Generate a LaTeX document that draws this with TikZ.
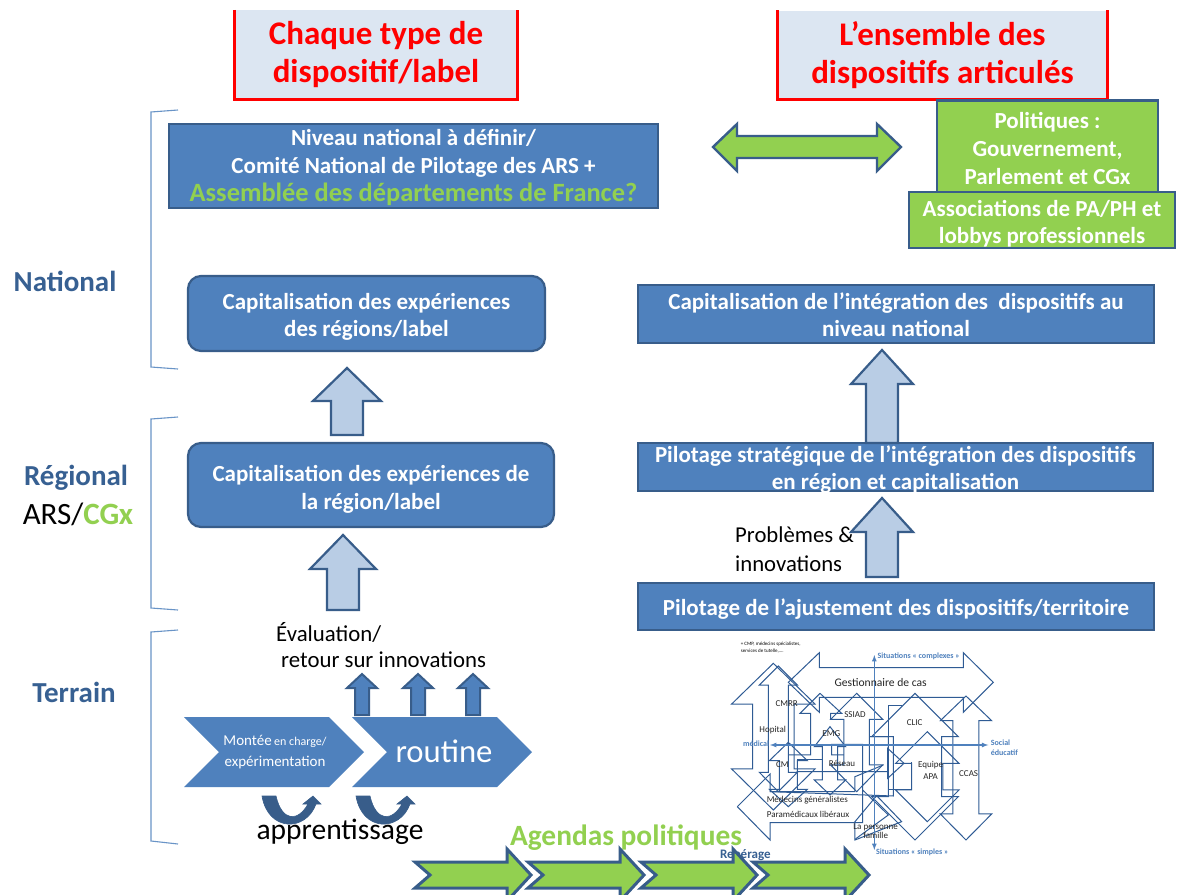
\documentclass[tikz,border=0pt]{standalone}
\usepackage{fontspec}
\setmainfont{Carlito}
\usetikzlibrary{positioning}

\definecolor{boxblue}{HTML}{4F81BD}
\definecolor{boxline}{HTML}{385D8A}
\definecolor{lightblue}{HTML}{B9CDE5}
\definecolor{palered}{HTML}{DCE6F2}
\definecolor{polgreen}{HTML}{92D050}
\definecolor{titleblue}{HTML}{376092}
\definecolor{netline}{HTML}{2F5B94}

\newcommand{\fsz}[1]{\fontsize{#1}{#1}\selectfont}
% taller first line, pushes a box text down
\newcommand{\toppad}[1]{\rule{0pt}{#1pt}}

% up arrow: centre, tip, head line, half head, half shaft, foot
\newcommand{\upblock}[7][]{\draw[#1] (#2,#3) -- ({#2+#5},#4) -- ({#2+#6},#4) -- ({#2+#6},#7)
  -- ({#2-#6},#7) -- ({#2-#6},#4) -- ({#2-#5},#4) -- cycle;}
% green arrow with notch
\newcommand{\greenblock}[1]{\draw[greenarrow] (#1,862) -- (#1+92,862) -- (#1+92,849) -- (#1+116,875)
  -- (#1+92,901) -- (#1+92,888) -- (#1,888) -- (#1+15,875) -- cycle;}

\tikzset{
  bluebox/.style={draw=boxline,line width=2.2pt,fill=boxblue,text=white,align=center,font=\fsz{23}\bfseries,inner sep=0pt},
  roundbox/.style={bluebox,rounded corners=13pt},
  greenbox/.style={draw=boxline,line width=2.6pt,fill=polgreen,text=white,align=center,font=\fsz{23}\bfseries,inner sep=0pt},
  redbox/.style={fill=palered,text={rgb,255:red,255;green,0;blue,0},align=center,font=\fsz{33}\bfseries,inner sep=0pt},
  redline/.style={draw={rgb,255:red,255;green,0;blue,0},line width=3pt},
  levelname/.style={text=titleblue,font=\fsz{29}\bfseries},
  plainlabel/.style={align=left,anchor=west,inner sep=0pt},
  paleup/.style={draw=boxline,line width=2.2pt,fill=lightblue},
  smallup/.style={draw=boxline,line width=2pt,fill=boxblue},
  greenarrow/.style={draw=boxline,line width=3pt,fill=polgreen},
  brace/.style={draw=boxblue!85,line width=1.1pt},
  netarrow/.style={draw=netline,line width=1pt},
  netaxis/.style={draw=boxblue,line width=1.2pt,<->,>=latex},
  netlabel/.style={font=\fsz{9},text=black!85,inner sep=0pt,align=center},
  axislabel/.style={font=\fsz{8}\bfseries,text=boxblue,inner sep=0pt,align=left},
  chevron/.style={fill=boxblue}
}

\begin{document}
\begin{tikzpicture}[x=1pt,y=-1pt]
  \clip (0,0) rectangle (1177,894);
  \fill[white] (0,0) rectangle (1177,894);

  % brackets
  \draw[brace] (178,110) -- (151,112) -- (151,367) -- (178,369);
  \draw[brace] (178,417) -- (151,419) -- (151,608) -- (178,610);
  \draw[brace] (178,630) -- (151,632) -- (151,841) -- (178,844);

  \node[levelname] (national) at (65,281) {National};
  \node[levelname] (regional) at (76,478) {Régional};
  \node[font=\fsz{31},inner sep=0pt] (ars) at (78,514) {ARS/\textcolor{polgreen}{\bfseries CGx}};
  \node[levelname] (terrain) at (74,692) {Terrain};

  % titles
  \node[redbox,minimum width=282pt,minimum height=89pt] (title1) at (376,54.5) {Chaque type de\\[5pt]dispositif/label};
  \node[redbox,minimum width=329pt,minimum height=89pt] (title2) at (942.5,55) {L’ensemble des\\[5pt]dispositifs articulés};
  \draw[redline] (title1.north west) -- (title1.south west) -- (title1.south east) -- (title1.north east);
  \draw[redline] (title2.north west) -- (title2.south west) -- (title2.south east) -- (title2.north east);

  % left column
  \node[bluebox,minimum width=489pt,minimum height=84pt] (nat) at (413.5,166)
    {\toppad{20}Niveau national à définir/\\[5pt]Comité National de Pilotage des ARS +\\[5pt]\textcolor{polgreen}{\fsz{26.4}Assemblée des départements de France?}};
  \node[roundbox,minimum width=357pt,minimum height=75pt] (capreg) at (366.5,313.5)
    {\toppad{23}Capitalisation des expériences\\[4pt]des régions/label};
  \node[roundbox,minimum width=366pt,minimum height=84pt] (capone) at (371,485)
    {\toppad{25}Capitalisation des expériences de\\[5pt]la région/label};

  % right column
  \node[greenbox,minimum width=221pt,minimum height=93pt,anchor=north] (pol) at (1047.5,99)
    {\toppad{19}Politiques :\\[5pt]Gouvernement,\\[5pt]Parlement et CGx};
  \node[greenbox,minimum width=266pt,minimum height=56pt] (assoc) at (1042,220)
    {\toppad{23}Associations de PA/PH et\\[4pt]lobbys professionnels};
  \node[bluebox,minimum width=516pt,minimum height=58pt] (capint) at (896,314)
    {\toppad{19}Capitalisation de l’intégration des\ \ dispositifs au\\[4pt]niveau national};
  \node[bluebox,minimum width=515pt,minimum height=48pt] (pilstrat) at (895.5,467) {};
  \node[text=white,align=center,font=\fsz{23}\bfseries,inner sep=0pt] (pilstrattext) at (895.5,470)
    {Pilotage stratégique de l’intégration des dispositifs\\[4pt]en région et capitalisation};
  \node[bluebox,minimum width=516pt,minimum height=47pt] (pilaj) at (896,606.5)
    {\toppad{22}Pilotage de l’ajustement des dispositifs/territoire};

  % green double arrow
  \draw[greenarrow,line width=2.4pt] (713,147) -- (737,124) -- (737,136) -- (877,136) -- (877,124) -- (901,147)
    -- (877,171) -- (877,158) -- (737,158) -- (737,171) -- cycle;

  % big arrows
  \upblock[paleup]{347}{368}{401}{34}{16}{435}
  \upblock[paleup]{343}{535}{569}{33}{16}{610}
  \upblock[paleup]{882}{350}{384}{31}{16}{443}
  \upblock[paleup]{882}{498}{532}{31}{16}{577}

  \node[plainlabel,font=\fsz{22.7}] (prob) at (735,535) {Problèmes \&};
  \node[plainlabel,font=\fsz{22.7}] (innov) at (735,564) {innovations};

  % field
  \node[plainlabel,font=\fsz{22.8}] (eval) at (276,632) {Évaluation/};
  \node[plainlabel,font=\fsz{22.8}] (retour) at (281,660) {retour sur innovations};
  \foreach \xa in {362,418,473}
    {\upblock[smallup]{\xa}{674}{688}{15}{7}{715}}

  \fill[chevron] (184,717) -- (329,717) -- (364,752) -- (329,787) -- (184,787) -- (219,752) -- cycle;
  \fill[chevron] (352,717) -- (497,717) -- (532,752) -- (497,787) -- (352,787) -- (387,752) -- cycle;
  \node[text=white,inner sep=0pt,align=center] (montee) at (275,752)
    {\fsz{15}Montée\,\fsz{12}en charge/\\[7pt]\fsz{15}expérimentation};
  \node[text=white,inner sep=0pt,font=\fsz{32.7}] (routine) at (444,751) {routine};

  \foreach \xa in {0,94}
    \draw[draw=boxline,line width=.6pt,fill=boxline,shift={(\xa,0)}] (262,796) -- (276,796)
      .. controls (282,822) and (298,822) .. (308,804) -- (303,804) -- (313,796) -- (321,804) -- (316,804)
      .. controls (306,832) and (268,832) .. (262,796) -- cycle;
  \node[font=\fsz{29.5},inner sep=0pt] (appr) at (340,832) {apprentissage};

  % network of situations
  \begin{scope}[shift={(720,630)},x=.3333pt,y=-.3333pt]
    \foreach \xa/\ya/\yb/\ha/\hb/\yc/\yd in {
        160/100/222/125/62/417/540,
        175/108/165/57/30/427/485,
        410/190/268/78/38/405/485,
        330/290/350/47/23/450/495,
        205/337/392/57/27/478/530,
        585/190/320/130/80/500/630,
        622/305/400/95/47/480/575,
        738/198/272/77/39/552/630}
      \draw[netarrow] (\xa,\ya) -- ({\xa+\ha},\yb) -- ({\xa+\hb},\yb) -- ({\xa+\hb},\yc) -- ({\xa+\ha},\yc) -- (\xa,\yd)
        -- ({\xa-\ha},\yc) -- ({\xa-\hb},\yc) -- ({\xa-\hb},\yb) -- ({\xa-\ha},\yb) -- cycle;
    % gestionnaire and medecins
    \draw[netarrow] (205,157) -- (298,68) -- (298,113) -- (730,113) -- (730,68) -- (820,157) -- (730,247) -- (730,202)
      -- (298,202) -- (298,247) -- cycle;
    \draw[netarrow] (52,530) -- (150,432) -- (150,485) -- (405,485) -- (405,440) -- (490,405);
    \draw[netarrow] (52,530) -- (150,630) -- (150,578) -- (428,578) -- (428,343) -- (335,343) -- (335,375) -- (372,375);
    % leftovers
    \draw[netarrow] (300,190) -- (240,250) -- (272,250) -- (272,375) -- (205,375);
    \draw[netarrow] (300,190) -- (365,250) -- (332,250) -- (332,268);
    \draw[netarrow] (232,390) -- (305,390);
    \draw[netarrow] (230,425) -- (503,425) -- (503,355) -- (552,400) -- (503,445) -- (503,425);
    \draw[netarrow] (575,397) -- (575,478) -- (505,478) -- (505,225) -- (545,225);
    \draw[netarrow] (450,320) -- (520,320) -- (520,498) -- (150,485);
    \draw[netarrow] (405,575) -- (470,497) -- (545,575) -- (405,630) -- cycle;
    \draw[netarrow] (428,480) -- (505,555) -- (405,628);

    \coordinate (axtop) at (463,75);
    \coordinate (axbot) at (463,660);
    \coordinate (axleft) at (150,345);
    \coordinate (axright) at (805,345);
    \draw[netaxis] (axbot) -- (axtop);
    \draw[netaxis] (axleft) -- (axright);

    \node[netlabel,font=\fsz{11.6}] (gest) at (482,157) {Gestionnaire de cas};
    \node[netlabel] (cmrr) at (200,220) {CMRR};
    \node[netlabel] (hop) at (158,300) {Hopital};
    \node[netlabel] (ssiad) at (405,253) {SSIAD};
    \node[netlabel] (emg) at (334,310) {EMG};
    \node[netlabel] (clic) at (584,277) {CLIC};
    \node[netlabel] (cm) at (187,405) {CM};
    \node[netlabel] (reseau) at (366,400) {Réseau};
    \node[netlabel] (apa) at (632,421) {Equipe\\[3pt]APA};
    \node[netlabel] (ccas) at (746,430) {CCAS};
    \node[netlabel] (medg) at (262,511) {Médecins généralistes};
    \node[netlabel] (para) at (264,553) {Paramédicaux libéraux};
    \node[netlabel] (pers) at (467,604) {La personne\\famille};

    \node[axislabel] (complexes) at (596,80) {Situations « complexes »};
    \node[axislabel] (simples) at (577,668) {Situations « simples »};
    \node[axislabel,anchor=west] (social) at (812,354) {Social\\[2pt]éducatif};
    \node[axislabel] (medical) at (108,341) {médical};
    \node[font=\fsz{5},inner sep=0pt,align=left,anchor=west] (cmp) at (62,53) {+ CMP, médecins spécialistes,\\[2pt]services de tutelle,….};
    \node[font=\fsz{13}\bfseries,text=titleblue,inner sep=0pt] (rep) at (76,674) {Repérage};
  \end{scope}

  % agendas
  \node[text=polgreen,font=\fsz{29.4}\bfseries,inner sep=0pt] (agendas) at (626,838) {Agendas politiques};
  \greenblock{415}
  \greenblock{528}
  \greenblock{641}
  \greenblock{753}
\end{tikzpicture}
\end{document}
